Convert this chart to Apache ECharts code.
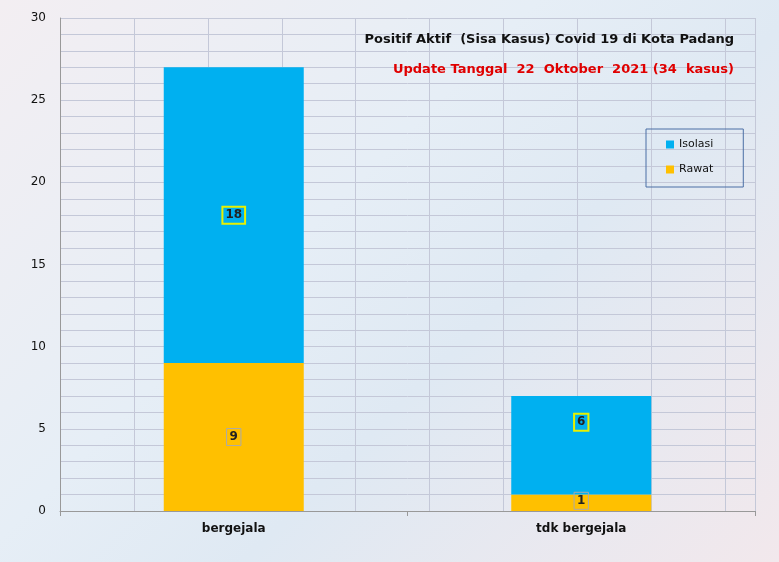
<!DOCTYPE html><html><head><meta charset="utf-8"><script src="https://cdn.jsdelivr.net/npm/echarts@6/dist/echarts.min.js"></script>
<style>html,body{margin:0;padding:0}#c{width:779px;height:562px;background:linear-gradient(135deg,#f3eef2 0%,#e6eef6 40%,#dfe9f3 60%,#f2e8ec 100%)}</style></head><body><div id="c"></div><script>
const categories=['bergejala','tdk bergejala'];
const rawat=[9,1];
const isolasi=[18,6];
const yTicks=[0,5,10,15,20,25,30];
const chart=echarts.init(document.getElementById('c'));
const fontF='"DejaVu Sans", Verdana, sans-serif';
function lab(border,extra){return Object.assign({show:true,position:'inside',color:'#222',fontSize:12,fontWeight:'bold',fontFamily:fontF,borderColor:border,borderWidth:border==='#e8f000'?2:1,padding:[3,3,2,3]},extra||{});}
chart.setOption({
 animation:false,
 grid:{left:60,right:24,top:18,bottom:51},
 title:[{text:'Positif Aktif  (Sisa Kasus) Covid 19 di Kota Padang',right:40,top:28,textStyle:{fontSize:13,fontWeight:'bold',color:'#111',fontFamily:fontF}},
  {text:'Update Tanggal  22  Oktober  2021 (34  kasus)',right:40,top:58,textStyle:{fontSize:13,fontWeight:'bold',color:'#e00000',fontFamily:fontF}}],
 legend:{orient:'vertical',left:646,top:129,width:60,padding:[10,30,12,20],itemGap:14,itemWidth:8,itemHeight:8,icon:'rect',borderColor:'#4a6fa5',borderWidth:1,data:['Isolasi','Rawat'],textStyle:{fontSize:11,fontFamily:fontF,color:'#111'}},
 xAxis:[{type:'category',data:categories,axisTick:{show:true,lineStyle:{color:'#999'}},axisLine:{lineStyle:{color:'#999'}},axisLabel:{fontSize:12,fontWeight:'bold',color:'#111',fontFamily:fontF,margin:12},splitLine:{show:false}},
  {type:'value',min:0,max:9.4,interval:1,position:'top',axisLine:{show:false},axisTick:{show:false},axisLabel:{show:false},splitLine:{show:true,lineStyle:{color:'#c4c8d8'}}}],
 yAxis:{type:'value',min:0,max:30,interval:1,axisLine:{show:true,lineStyle:{color:'#999'}},axisTick:{show:false},
  axisLabel:{fontSize:12,color:'#111',fontFamily:fontF,margin:14,formatter:v=>yTicks.includes(v)?String(v):''},splitLine:{lineStyle:{color:'#c4c8d8'}}},
 series:[
  {name:'Rawat',type:'bar',stack:'a',barWidth:140,data:[rawat[0],{value:rawat[1],label:{offset:[0,-2]}}],itemStyle:{color:'#ffc000'},label:lab('#aaaaaa')},
  {name:'Isolasi',type:'bar',stack:'a',barWidth:140,data:[isolasi[0],{value:isolasi[1],label:{offset:[0,-23]}}],itemStyle:{color:'#00b0f0'},label:lab('#e8f000')}
 ]
});
</script></body></html>
